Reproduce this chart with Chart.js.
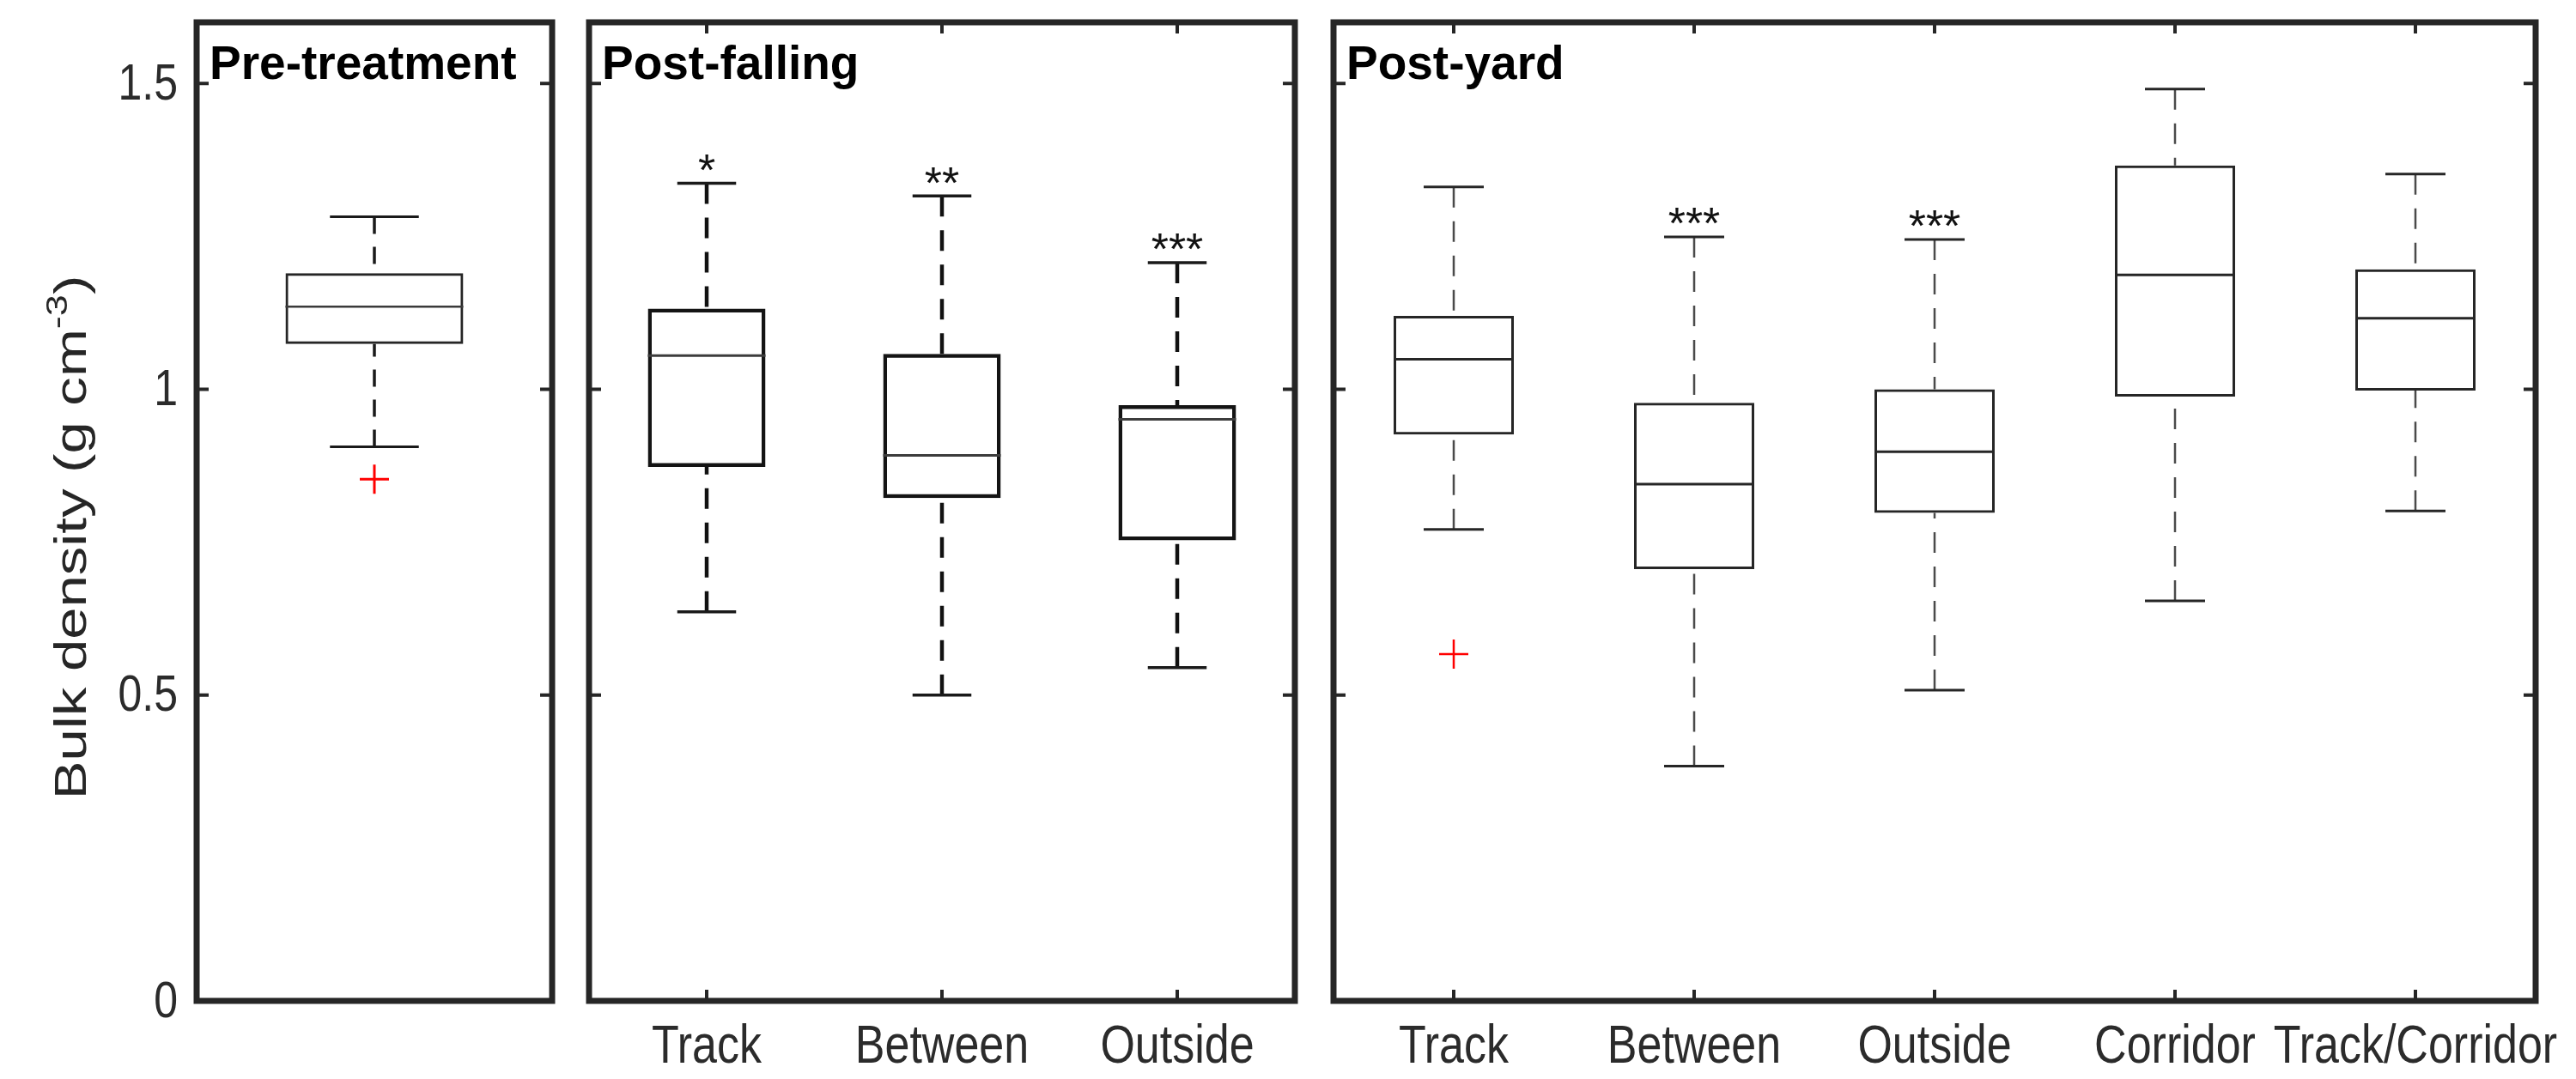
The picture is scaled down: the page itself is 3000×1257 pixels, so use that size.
<!DOCTYPE html>
<html>
<head>
<meta charset="utf-8">
<script src="https://cdn.jsdelivr.net/npm/chart.js@4.4.0/dist/chart.umd.min.js"></script>
<style>
html,body{margin:0;padding:0;background:#ffffff;}
#wrap{position:relative;width:3000px;height:1257px;background:#ffffff;overflow:hidden;}
#wrap canvas{position:absolute;left:0;top:0;}
</style>
</head>
<body>
<div id="wrap">
<canvas id="c1" width="3000" height="1257"></canvas>
<canvas id="c2" width="3000" height="1257"></canvas>
<canvas id="c3" width="3000" height="1257"></canvas>
</div>
<script>
// ---------------- DATA ----------------
const yTicks = [0, 0.5, 1, 1.5];
const yTickLabels = ['0', '0.5', '1', '1.5'];
const yTitleMain = 'Bulk density (g cm';
const yTitleSup = '-3';
const yTitleEnd = ')';

// Pre-treatment
const preTitle = 'Pre-treatment';
const preCategories = ['Pre-treatment'];
const preLow  = [0.906];
const preQ1   = [1.074];
const preMed  = [1.135];
const preQ3   = [1.190];
const preHigh = [1.282];
const preOutlierCats = ['Pre-treatment'];
const preOutlierVals = [0.853];
const preStars = [''];

// Post-falling
const fallTitle = 'Post-falling';
const fallCategories = ['Track', 'Between', 'Outside'];
const fallLow  = [0.636, 0.500, 0.545];
const fallQ1   = [0.873, 0.822, 0.753];
const fallMed  = [1.055, 0.892, 0.951];
const fallQ3   = [1.132, 1.058, 0.974];
const fallHigh = [1.337, 1.316, 1.207];
const fallOutlierCats = [];
const fallOutlierVals = [];
const fallStars = ['*', '**', '***'];

// Post-yard
const yardTitle = 'Post-yard';
const yardCategories = ['Track', 'Between', 'Outside', 'Corridor', 'Track/Corridor'];
const yardLow  = [0.771, 0.384, 0.508, 0.654, 0.801];
const yardQ1   = [0.926, 0.706, 0.798, 0.988, 0.998];
const yardMed  = [1.049, 0.845, 0.898, 1.187, 1.116];
const yardQ3   = [1.120, 0.978, 1.000, 1.366, 1.196];
const yardHigh = [1.331, 1.249, 1.245, 1.491, 1.352];
const yardOutlierCats = ['Track'];
const yardOutlierVals = [0.567];
const yardStars = ['', '***', '***', '', ''];

// ---------------- LAYOUT / STYLE ----------------
const W = 3000, H = 1257;
const PLOT_TOP = 26, PLOT_BOTTOM = 1166;
const FONT = "'Liberation Sans', Arial, Helvetica, sans-serif";
const TXT_STRETCH = 1.2;
const YTITLE_STRETCH = 1.29;

function stretchedText(ctx, txt, x, y, size, color, align) {
  ctx.save();
  ctx.translate(x, y);
  ctx.scale(1, TXT_STRETCH);
  ctx.font = size + 'px ' + FONT;
  ctx.fillStyle = color;
  ctx.textAlign = align;
  ctx.textBaseline = 'middle';
  ctx.fillText(txt, 0, 0);
  ctx.restore();
}

function makePlugin(cfg) {
  return {
    id: 'boxplotParts',
    afterDatasetsDraw(chart) {
      const ctx = chart.ctx, xs = chart.scales.x, ys = chart.scales.y, ca = chart.chartArea;
      const n = cfg.cats.length;
      const catW = (ca.right - ca.left) / n;
      const capHalf = catW * 0.125, boxHalf = catW * 0.25;
      ctx.save();
      for (let i = 0; i < n; i++) {
        const x = xs.getPixelForValue(i);
        const yHigh = ys.getPixelForValue(cfg.high[i]);
        const yQ3 = ys.getPixelForValue(cfg.q3[i]);
        const yQ1 = ys.getPixelForValue(cfg.q1[i]);
        const yLow = ys.getPixelForValue(cfg.low[i]);
        const yMed = ys.getPixelForValue(cfg.med[i]);
        // whiskers (dashed)
        ctx.strokeStyle = cfg.st.whiskerColor;
        ctx.lineWidth = cfg.st.whiskerWidth;
        ctx.lineCap = 'butt';
        ctx.setLineDash(cfg.st.dash);
        ctx.beginPath(); ctx.moveTo(x, yHigh); ctx.lineTo(x, yQ3); ctx.stroke();
        ctx.beginPath(); ctx.moveTo(x, yLow); ctx.lineTo(x, yQ1); ctx.stroke();
        ctx.setLineDash([]);
        // caps
        ctx.strokeStyle = cfg.st.capColor;
        ctx.lineWidth = cfg.st.capWidth;
        ctx.beginPath(); ctx.moveTo(x - capHalf, yHigh); ctx.lineTo(x + capHalf, yHigh); ctx.stroke();
        ctx.beginPath(); ctx.moveTo(x - capHalf, yLow); ctx.lineTo(x + capHalf, yLow); ctx.stroke();
        // median
        ctx.strokeStyle = cfg.st.medColor;
        ctx.lineWidth = cfg.st.medWidth;
        ctx.beginPath(); ctx.moveTo(x - boxHalf, yMed); ctx.lineTo(x + boxHalf, yMed); ctx.stroke();
        // significance stars
        if (cfg.stars[i]) {
          const fs = 52;
          ctx.font = fs + 'px ' + FONT;
          ctx.fillStyle = '#111111';
          ctx.textAlign = 'center';
          ctx.textBaseline = 'alphabetic';
          ctx.fillText(cfg.stars[i], x, yHigh - 28 + 0.58 * fs);
        }
      }
      ctx.restore();
    },
    afterDraw(chart) {
      const ctx = chart.ctx, xs = chart.scales.x, ys = chart.scales.y, ca = chart.chartArea;
      const n = cfg.cats.length;
      ctx.save();
      // ticks (inside)
      ctx.strokeStyle = '#262626';
      ctx.lineWidth = 4;
      yTicks.forEach(v => {
        const y = ys.getPixelForValue(v);
        ctx.beginPath(); ctx.moveTo(ca.left, y); ctx.lineTo(ca.left + 14, y); ctx.stroke();
        ctx.beginPath(); ctx.moveTo(ca.right - 14, y); ctx.lineTo(ca.right, y); ctx.stroke();
      });
      if (cfg.showX) {
        for (let i = 0; i < n; i++) {
          const x = xs.getPixelForValue(i);
          ctx.beginPath(); ctx.moveTo(x, ca.top); ctx.lineTo(x, ca.top + 13); ctx.stroke();
          ctx.beginPath(); ctx.moveTo(x, ca.bottom - 13); ctx.lineTo(x, ca.bottom); ctx.stroke();
        }
      }
      // frame
      ctx.lineWidth = 7;
      ctx.strokeStyle = '#262626';
      ctx.strokeRect(ca.left, ca.top, ca.right - ca.left, ca.bottom - ca.top);
      // panel title
      ctx.font = 'bold 55px ' + FONT;
      ctx.fillStyle = '#000000';
      ctx.textAlign = 'left';
      ctx.textBaseline = 'alphabetic';
      ctx.fillText(cfg.title, ca.left + 15, 92);
      // x tick labels
      if (cfg.showX) {
        for (let i = 0; i < n; i++) {
          stretchedText(ctx, cfg.cats[i], xs.getPixelForValue(i), 1221, 52, '#2b2b2b', 'center');
        }
      }
      // y tick labels + y title
      if (cfg.showY) {
        yTicks.forEach((v, k) => {
          stretchedText(ctx, yTickLabels[k], ca.left - 22, ys.getPixelForValue(v) + 2, 50, '#2b2b2b', 'right');
        });
        const fs = 52, sfs = 35;
        ctx.save();
        ctx.translate(100, (ca.top + ca.bottom) / 2 + 30);
        ctx.rotate(-Math.PI / 2);
        ctx.scale(YTITLE_STRETCH, 1);
        ctx.fillStyle = '#262626';
        ctx.textBaseline = 'alphabetic';
        ctx.textAlign = 'left';
        ctx.font = fs + 'px ' + FONT;
        const w1 = ctx.measureText(yTitleMain).width;
        const w3 = ctx.measureText(yTitleEnd).width;
        ctx.font = sfs + 'px ' + FONT;
        const w2 = ctx.measureText(yTitleSup).width;
        let x0 = -(w1 + w2 + w3) / 2;
        ctx.font = fs + 'px ' + FONT;
        ctx.fillText(yTitleMain, x0, 0);
        ctx.font = sfs + 'px ' + FONT;
        ctx.fillText(yTitleSup, x0 + w1, -0.42 * fs);
        ctx.font = fs + 'px ' + FONT;
        ctx.fillText(yTitleEnd, x0 + w1 + w2, 0);
        ctx.restore();
      }
      ctx.restore();
    }
  };
}

function makePanel(id, left, right, cfg) {
  const datasets = [{
    type: 'bar',
    data: cfg.q1.map((v, i) => [v, cfg.q3[i]]),
    backgroundColor: 'rgba(0,0,0,0)',
    borderColor: cfg.st.boxColor,
    borderWidth: cfg.st.boxWidth,
    borderSkipped: false,
    barPercentage: 0.5,
    categoryPercentage: 1.0,
    order: 2
  }];
  if (cfg.outCats.length) {
    datasets.push({
      type: 'line',
      data: cfg.outCats.map((c, i) => ({ x: c, y: cfg.outVals[i] })),
      showLine: false,
      pointStyle: 'cross',
      pointRadius: 17,
      pointHoverRadius: 17,
      pointBorderWidth: cfg.st.outWidth,
      pointBorderColor: '#ff0000',
      pointBackgroundColor: '#ff0000',
      order: 1
    });
  }
  return new Chart(document.getElementById(id), {
    type: 'bar',
    data: { labels: cfg.cats, datasets },
    options: {
      responsive: false,
      animation: false,
      devicePixelRatio: 1,
      events: [],
      layout: { padding: { left: left, right: W - right, top: PLOT_TOP, bottom: H - PLOT_BOTTOM } },
      scales: {
        x: { type: 'category', offset: true, display: false, grid: { display: false } },
        y: { type: 'linear', min: 0, max: 1.6, display: false, grid: { display: false } }
      },
      plugins: { legend: { display: false }, tooltip: { enabled: false }, title: { display: false } }
    },
    plugins: [makePlugin(cfg)]
  });
}

makePanel('c1', 229, 643, {
  title: preTitle, cats: preCategories, low: preLow, q1: preQ1, med: preMed, q3: preQ3, high: preHigh,
  outCats: preOutlierCats, outVals: preOutlierVals, stars: preStars, showX: false, showY: true,
  st: { boxColor: '#262626', boxWidth: 3, whiskerColor: '#1a1a1a', whiskerWidth: 3.5, dash: [20, 15],
        capColor: '#1a1a1a', capWidth: 3, medColor: '#3a3a3a', medWidth: 2.5, outWidth: 3 }
});
makePanel('c2', 686, 1508, {
  title: fallTitle, cats: fallCategories, low: fallLow, q1: fallQ1, med: fallMed, q3: fallQ3, high: fallHigh,
  outCats: fallOutlierCats, outVals: fallOutlierVals, stars: fallStars, showX: true, showY: false,
  st: { boxColor: '#141414', boxWidth: 4.5, whiskerColor: '#111111', whiskerWidth: 4.5, dash: [24, 16],
        capColor: '#1a1a1a', capWidth: 3.5, medColor: '#3c3c3c', medWidth: 3, outWidth: 3 }
});
makePanel('c3', 1553, 2953, {
  title: yardTitle, cats: yardCategories, low: yardLow, q1: yardQ1, med: yardMed, q3: yardQ3, high: yardHigh,
  outCats: yardOutlierCats, outVals: yardOutlierVals, stars: yardStars, showX: true, showY: false,
  st: { boxColor: '#262626', boxWidth: 3, whiskerColor: '#4a4a4a', whiskerWidth: 2.5, dash: [24, 16],
        capColor: '#262626', capWidth: 3, medColor: '#262626', medWidth: 3, outWidth: 2.5 }
});
</script>
</body>
</html>
